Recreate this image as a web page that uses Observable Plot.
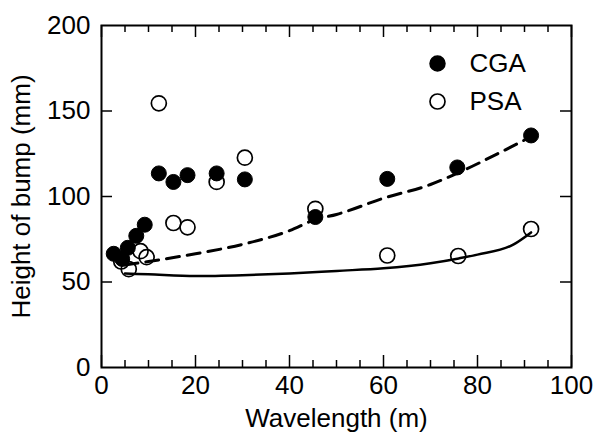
<!DOCTYPE html>
<html>
<head>
<meta charset="utf-8">
<script src="https://cdn.jsdelivr.net/npm/d3@7"></script>
<script src="https://cdn.jsdelivr.net/npm/@observablehq/plot@0.6"></script>
<style>
  html, body { margin: 0; padding: 0; background: white; }
</style>
</head>
<body>
<div id="chart"></div>
<script>
// ---- data ----
const cgaX = [2.6, 4.4, 5.6, 7.4, 9.2, 12.2, 15.3, 18.3, 24.5, 30.5, 45.5, 60.8, 75.7, 91.4];
const cgaY = [66.5, 63.5, 70, 77, 83.5, 113.5, 108.5, 112.5, 113.5, 110, 88, 110.3, 117, 135.7];

const psaX = [4.2, 5.8, 8.3, 9.6, 12.2, 15.3, 18.3, 24.5, 30.5, 45.5, 60.8, 75.9, 91.4];
const psaY = [62, 57.5, 68, 64.5, 154.5, 84.5, 82, 108.5, 122.7, 92.8, 65.5, 65.2, 81];

const cgaFitX = [5, 10, 20, 30, 40, 45.5, 50, 60, 70, 76, 85, 91.4];
const cgaFitY = [60, 62, 66.5, 72, 80, 86.5, 89.5, 99, 107, 114, 126, 135];

const psaFitX = [5, 10, 20, 30, 40, 50, 60, 70, 76, 80, 87.7, 91.4];
const psaFitY = [55, 54.5, 53.5, 54, 55, 56.5, 58, 61, 63.8, 66, 72, 79];

const xMajorTicks = [0, 20, 40, 60, 80, 100];
const xMinorTicks = [5, 10, 15, 25, 30, 35, 45, 50, 55, 65, 70, 75, 85, 90, 95];
const yTickLabels = [0, 50, 100, 150, 200];
const yTicks = [50, 100, 150];
const seriesNames = ["CGA", "PSA"];
const xTitle = "Wavelength (m)";
const yTitle = "Height of bump (mm)";

// ---- build tables ----
const cga = cgaX.map((x, i) => ({x, y: cgaY[i]}));
const psa = psaX.map((x, i) => ({x, y: psaY[i]}));
const cgaFit = cgaFitX.map((x, i) => ({x, y: cgaFitY[i]}));
const psaFit = psaFitX.map((x, i) => ({x, y: psaFitY[i]}));

const W = 598, H = 432;
const mL = 101, mR = 27, mT = 25, mB = 65;
const innerW = W - mL - mR, innerH = H - mT - mB;
const FS = 26;
const font = "'Liberation Sans', Arial, Helvetica, sans-serif";

const chart = Plot.plot({
  width: W, height: H,
  marginLeft: mL, marginRight: mR, marginTop: mT, marginBottom: mB,
  x: {domain: [0, 100]},
  y: {domain: [0, 200]},
  style: {fontFamily: font, fontSize: FS + "px", color: "black", background: "white"},
  marks: [
    // inward ticks: bottom & top
    Plot.ruleX(xMinorTicks, {x: d => d, insetTop: innerH - 7, stroke: "black", strokeWidth: 1.5}),
    Plot.ruleX(xMinorTicks, {x: d => d, insetBottom: innerH - 7, stroke: "black", strokeWidth: 1.5}),
    Plot.ruleX(xMajorTicks, {x: d => d, insetTop: innerH - 12, stroke: "black", strokeWidth: 1.5}),
    Plot.ruleX(xMajorTicks, {x: d => d, insetBottom: innerH - 12, stroke: "black", strokeWidth: 1.5}),
    // inward ticks: left & right
    Plot.ruleY(yTicks, {y: d => d, insetRight: innerW - 11, stroke: "black", strokeWidth: 1.5}),
    Plot.ruleY(yTicks, {y: d => d, insetLeft: innerW - 11, stroke: "black", strokeWidth: 1.5}),
    Plot.frame({stroke: "black", strokeWidth: 2}),
    Plot.axisX({ticks: xMajorTicks, tickSize: 0, tickPadding: 8, fontSize: FS, label: null}),
    Plot.axisY({ticks: yTickLabels, tickSize: 0, tickPadding: 11, fontSize: FS, label: null}),
    // fitted curves
    Plot.line(cgaFit, {x: "x", y: "y", curve: "monotone-x", stroke: "black", strokeWidth: 3, strokeDasharray: "13,8"}),
    Plot.line(psaFit, {x: "x", y: "y", curve: "monotone-x", stroke: "black", strokeWidth: 2.5}),
    // points
    Plot.dot(psa, {x: "x", y: "y", r: 7.5, fill: "white", fillOpacity: 0, stroke: "black", strokeWidth: 1.7}),
    Plot.dot(cga, {x: "x", y: "y", r: 7.5, fill: "black", stroke: "black", strokeWidth: 1}),
    // legend
    Plot.dot([seriesNames[0]], {frameAnchor: "top-right", dx: -134, dy: 38, r: 7.5, fill: "black", stroke: "black"}),
    Plot.dot([seriesNames[1]], {frameAnchor: "top-right", dx: -134, dy: 76, r: 7.5, fill: "white", stroke: "black", strokeWidth: 1.7}),
    Plot.text([seriesNames[0]], {text: d => d, frameAnchor: "top-right", dx: -102, dy: 38, textAnchor: "start", lineAnchor: "middle", fontSize: FS}),
    Plot.text([seriesNames[1]], {text: d => d, frameAnchor: "top-right", dx: -102, dy: 76, textAnchor: "start", lineAnchor: "middle", fontSize: FS}),
    // axis titles
    Plot.text([xTitle], {text: d => d, frameAnchor: "bottom", dy: 51, textAnchor: "middle", lineAnchor: "middle", fontSize: FS}),
    Plot.text([yTitle], {text: d => d, frameAnchor: "left", dx: -80, rotate: -90, textAnchor: "middle", lineAnchor: "middle", fontSize: FS})
  ]
});
document.getElementById("chart").appendChild(chart);
</script>
</body>
</html>
